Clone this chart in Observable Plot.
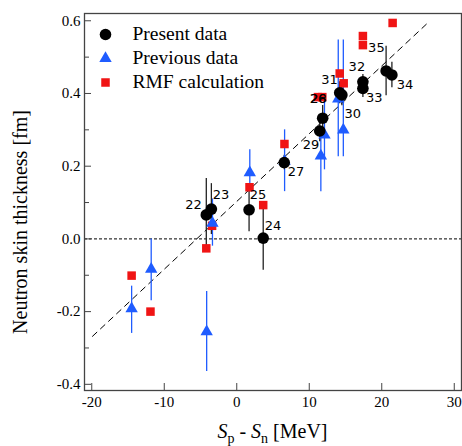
<!DOCTYPE html>
<html>
<head>
<meta charset="utf-8">
<script src="https://cdn.jsdelivr.net/npm/d3@7"></script>
<script src="https://cdn.jsdelivr.net/npm/@observablehq/plot@0.6"></script>
<style>
  html, body { margin: 0; padding: 0; background: white; }
</style>
</head>
<body>
<div id="chart"></div>
<script>
// ---- Data ----
const presentLabels = ["22", "23", "24", "25", "27", "28", "29", "30", "31", "32", "33", "34", "35"];
const presentX   = [-4.2, -3.5, 3.65, 1.7, 6.55, 11.85, 11.45, 14.5, 14.2, 17.4, 17.4, 21.4, 20.6];
const presentY   = [0.066, 0.082, 0.002, 0.080, 0.21, 0.332, 0.297, 0.396, 0.402, 0.432, 0.414, 0.451, 0.462];
const presentErr = [0.10, 0.07, 0.088, 0.06, 0.02, 0.035, 0.03, 0.03, 0.03, 0.02, 0.025, 0.035, 0.068];

const previousX  = [-14.5, -11.8, -4.15, -3.35, 1.8, 6.6, 11.6, 12.1, 14.0, 14.7];
const previousY  = [-0.192, -0.083, -0.255, 0.043, 0.182, 0.214, 0.228, 0.286, 0.385, 0.30];
const previousLo = [-0.26, -0.17, -0.365, -0.02, 0.13, 0.13, 0.13, 0.19, 0.226, 0.226];
const previousHi = [-0.13, 0.0, -0.145, 0.11, 0.245, 0.30, 0.30, 0.38, 0.547, 0.547];

const rmfX = [-14.5, -11.9, -4.2, -3.4, 1.76, 3.65, 6.58, 11.2, 11.8, 14.2, 14.75, 17.4, 17.4, 21.5];
const rmfY = [-0.101, -0.2, -0.026, 0.036, 0.142, 0.093, 0.261, 0.39, 0.39, 0.455, 0.428, 0.558, 0.533, 0.594];

// nucleus number annotations (data units)
const annText = ["22", "23", "24", "25", "26", "27", "28", "29", "30", "31", "32", "33", "34", "35"];
const annX    = [-5.95, -2.16, 5.0, 2.93, 11.2, 8.17, 11.27, 10.23, 16.0, 12.78, 16.57, 18.98, 23.2, 19.26];
const annY    = [0.093, 0.121, 0.036, 0.121, 0.386, 0.185, 0.386, 0.258, 0.345, 0.437, 0.473, 0.387, 0.423, 0.525];

// dashed systematic trend line
const fitX = [-19.9, 26.5];
const fitY = [-0.268, 0.597];

const xTicks = [-20, -10, 0, 10, 20, 30];
const yTicks = [-0.4, -0.2, 0.0, 0.2, 0.4, 0.6];
const yMinorTicks = [-0.3, -0.1, 0.1, 0.3, 0.5];

const legendLabels = ["Present data", "Previous data", "RMF calculation"];
const xTitleParts = ["S", "p", " - ", "S", "n", " [MeV]"];
const yTitle = "Neutron skin thickness [fm]";

// ---- Build tables ----
const present = presentX.map((x, i) => ({x, y: presentY[i], lo: presentY[i] - presentErr[i], hi: presentY[i] + presentErr[i], label: presentLabels[i]}));
const previous = previousX.map((x, i) => ({x, y: previousY[i], lo: previousLo[i], hi: previousHi[i]}));
const rmf = rmfX.map((x, i) => ({x, y: rmfY[i]}));
const ann = annText.map((t, i) => ({t, x: annX[i], y: annY[i]}));
const fit = fitX.map((x, i) => ({x, y: fitY[i]}));

const BLUE = "#1f5cff";
const RED = "#f01414";
const serif = "'Liberation Serif', 'Times New Roman', serif";
const legendSymbols = ["circle", "triangle", "square"];
const legendFills = ["black", BLUE, RED];
const legendR = [5.8, 4.6, 4.8];

const legendMarks = legendLabels.flatMap((lab, i) => [
  Plot.dot([lab], {frameAnchor: "top-left", dx: 21, dy: 21 + 24 * i, r: legendR[i], symbol: legendSymbols[i], fill: legendFills[i]}),
  Plot.text([lab], {frameAnchor: "top-left", dx: 48, dy: 20 + 24 * i, text: d => d, textAnchor: "start", lineAnchor: "middle", fontSize: 19.5, fontFamily: serif, fill: "black"})
]);

const chart = Plot.plot({
  width: 462,
  height: 446,
  marginLeft: 84,
  marginRight: 1,
  marginTop: 13,
  marginBottom: 56,
  style: {fontFamily: serif, fontSize: "15px", background: "white", color: "black"},
  x: {domain: [-21, 31]},
  y: {domain: [-0.417, 0.62]},
  marks: [
    Plot.ruleY([0], {stroke: "black", strokeWidth: 1, strokeDasharray: "3,2"}),
    Plot.line(fit, {x: "x", y: "y", stroke: "black", strokeWidth: 1, strokeDasharray: "6,5"}),
    // error bars
    Plot.ruleX(previous, {x: "x", y1: "lo", y2: "hi", stroke: BLUE, strokeWidth: 1.3}),
    Plot.ruleX(present, {x: "x", y1: "lo", y2: "hi", stroke: "#222", strokeWidth: 1.3}),
    // points
    Plot.dot(rmf, {x: "x", y: "y", symbol: "square", r: 4.8, fill: RED, stroke: "none"}),
    Plot.dot(previous, {x: "x", y: "y", symbol: "triangle", r: 4.6, fill: BLUE, stroke: "none"}),
    Plot.dot(present, {x: "x", y: "y", symbol: "circle", r: 5.8, fill: "black", stroke: "none"}),
    // nucleus labels
    Plot.text(ann, {x: "x", y: "y", text: "t", fontFamily: "'DejaVu Sans', sans-serif", fontSize: 13, fill: "black"}),
    // axes
    Plot.axisX(xTicks, {tickSize: -7, tickPadding: 13, tickFormat: d => String(d), fontSize: 15, label: null, stroke: "#444"}),
    Plot.axisY(yTicks, {tickSize: -7, tickPadding: 11, tickFormat: d => d.toFixed(1), fontSize: 15, label: null, stroke: "#444"}),
    Plot.axisY(yMinorTicks, {tickSize: -5, tickPadding: 11, tickFormat: () => "", label: null, stroke: "#444"}),
    Plot.frame({stroke: "#444", strokeWidth: 1.3}),
    // legend
    ...legendMarks,
    // y title
    Plot.text([yTitle], {frameAnchor: "left", dx: -64, dy: 20, rotate: -90, text: d => d, textAnchor: "middle", lineAnchor: "middle", fontSize: 20, fontFamily: serif, fill: "black"})
  ]
});

// x-axis title with subscripts, placed under the centre of the frame
const xs = chart.scale("x");
const xCenter = (xs.apply(xs.domain[0]) + xs.apply(xs.domain[1])) / 2;
const t = d3.select(chart).append("text")
  .attr("x", xCenter).attr("y", 438)
  .attr("text-anchor", "middle")
  .style("font-family", serif).style("font-size", "20px").attr("fill", "black");
xTitleParts.forEach((p, i) => {
  const ts = t.append("tspan").text(p);
  if (p === "S") ts.attr("font-style", "italic");
  if (i === 1 || i === 4) ts.attr("dy", 5).attr("font-size", "14px");
  if (i === 2 || i === 5) ts.attr("dy", -5);
});

document.getElementById("chart").appendChild(chart);
</script>
</body>
</html>
